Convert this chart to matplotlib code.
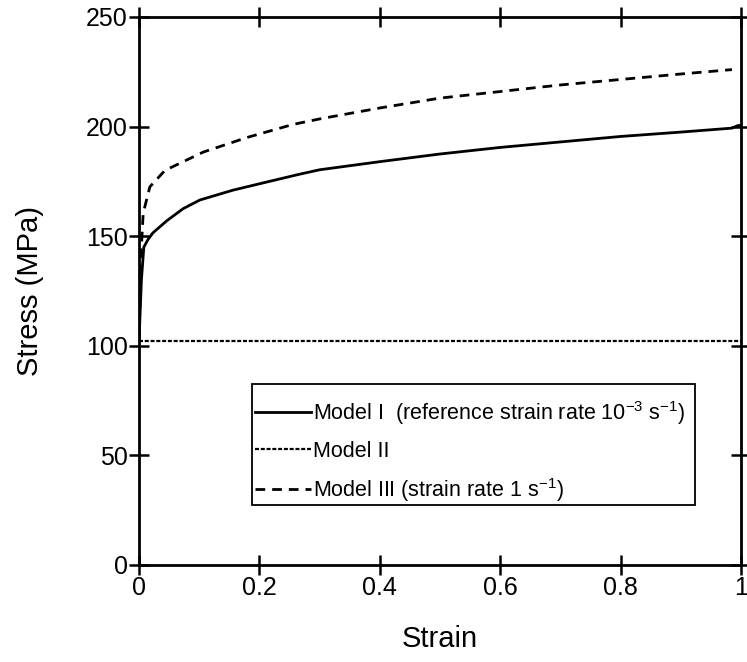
import numpy as np
import matplotlib
matplotlib.use("Agg")
import matplotlib.pyplot as plt
from matplotlib.patches import Rectangle

plt.rcParams['font.family'] = ['Liberation Sans', 'DejaVu Sans']
plt.rcParams['mathtext.default'] = 'regular'

# Model I (reference strain rate 1e-3 1/s)
strain_1 = [0.0, 0.004, 0.008, 0.015, 0.023, 0.046, 0.073, 0.101, 0.156, 0.212, 0.267,
            0.3, 0.4, 0.5, 0.6, 0.7, 0.8, 0.9, 0.985, 0.995, 1.0]
stress_1 = [102, 130, 145, 148.5, 151.5, 157, 162.5, 166.5, 171, 174.7, 178.3,
            180.3, 184, 187.5, 190.5, 193, 195.5, 197.5, 199.3, 200.5, 200.5]

# Model II
strain_2 = [0.0, 1.0]
stress_2 = [102, 102]

# Model III (strain rate 1/s)
strain_3 = [0.0, 0.003, 0.007, 0.018, 0.043, 0.107, 0.179, 0.256, 0.3, 0.4,
            0.5, 0.6, 0.7, 0.8, 0.9, 0.985]
stress_3 = [102, 140, 160.5, 172.5, 180, 188.4, 195, 201, 203.5, 208.5,
            213, 216, 219, 221.5, 224, 226]

fig = plt.figure(figsize=(7.47, 6.62), dpi=100)
ax = fig.add_axes([139/747, 1 - 565/662, 602/747, 548/662])

ax.plot(strain_1, stress_1, color='black', lw=2,
        label='Model I  (reference strain rate $10^{-3}$ s$^{-1}$)')
ax.plot(strain_2, stress_2, color='black', lw=1.6, dashes=(1.8, 0.8),
        label='Model II')
ax.plot(strain_3, stress_3, color='black', lw=2, dashes=(3.5, 2.5),
        label='Model III (strain rate 1 s$^{-1}$)')

ax.set_xlim(0, 1)
ax.set_ylim(0, 250)
ax.set_xticks([0, 0.2, 0.4, 0.6, 0.8, 1])
ax.set_xticklabels(['0', '0.2', '0.4', '0.6', '0.8', '1'])
ax.set_yticks([0, 50, 100, 150, 200, 250])
ax.tick_params(direction='inout', length=14, width=1.8, labelsize=18,
               top=True, right=True, pad=1)
for s in ax.spines.values():
    s.set_linewidth(2)

ax.set_xlabel('Strain', fontsize=21, labelpad=18)
ax.set_ylabel('Stress (MPa)', fontsize=21, labelpad=30)

# legend box drawn separately from the entries
ax.add_patch(Rectangle((0.188, 0.11), 0.736, 0.22, transform=ax.transAxes,
                       fill=True, facecolor='white', edgecolor='black', lw=1.3, zorder=3))
leg = ax.legend(loc='upper left', bbox_to_anchor=(0.192, 0.303), fontsize=15.5,
                handlelength=2.6, handletextpad=0.1, labelspacing=0.65,
                borderpad=0.0, borderaxespad=0.0, frameon=False)
leg.set_zorder(4)

fig.savefig('out.png', dpi=100)
